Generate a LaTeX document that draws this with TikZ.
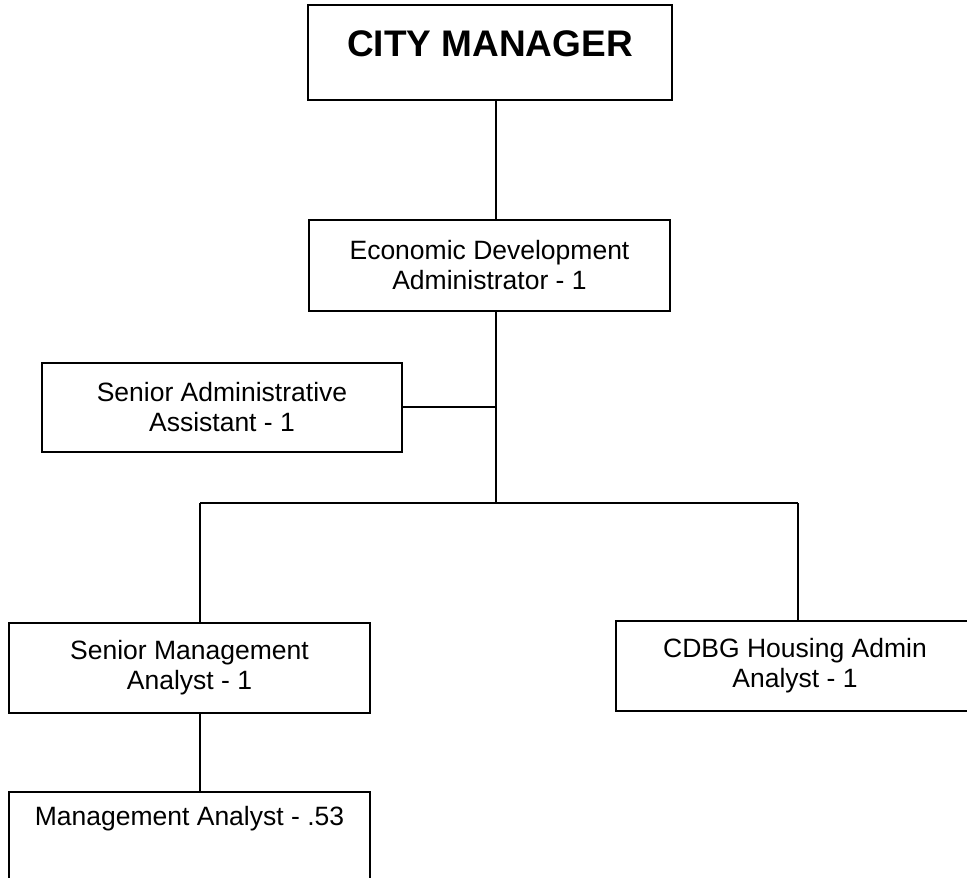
\documentclass[tikz,border=0pt]{standalone}
\usepackage{fontspec}
\setmainfont{Liberation Sans}
\usetikzlibrary{positioning}
\tikzset{unit/.style={draw, line width=1.6pt, inner sep=0pt, align=center,
                      font=\fontsize{26.5}{30}\selectfont},
         link/.style={line width=1.6pt}}

\begin{document}
\begin{tikzpicture}[x=1pt, y=-1pt]

        \clip (0,0) rectangle (967,878);

        % Nodes
        \node[unit, minimum width=364pt, minimum height=95pt, text depth=17pt,
              font=\bfseries\fontsize{37}{42}\selectfont] (cm) at (490,52.5) {CITY MANAGER};
        \node[unit, minimum width=361pt, minimum height=91pt] (ed) at (489.5,265.5) {Economic Development\\Administrator - 1};
        \node[unit, minimum width=360pt, minimum height=89pt] (saa) at (222,407.5) {Senior Administrative\\Assistant - 1};
        \node[unit, minimum width=361pt, minimum height=90pt] (sma) at (189.5,668) {Senior Management\\Analyst - 1};
        \node[unit, minimum width=358pt, minimum height=90pt] (cdbg) at (795,666) {CDBG Housing Admin\\Analyst - 1};
        \node[unit, minimum width=361pt, text height=34pt, text depth=60pt, anchor=north] (ma) at (189.5,791) {Management Analyst - .53};

        \coordinate (jsa) at (496,407);
        \coordinate (jm) at (496,503);
        \coordinate (jl) at (200,503);
        \coordinate (jr) at (798,503);

        % Edges
        \draw[link] (cm.south -| jsa) -- (ed.north -| jsa);
        \draw[link] (ed.south -| jsa) -- (jm);
        \draw[link] (saa.east |- jsa) -- (jsa);
        \draw[link] (jl) -- (jr);
        \draw[link] (jl) -- (jl |- sma.north);
        \draw[link] (jr) -- (jr |- cdbg.north);
        \draw[link] (sma.south -| jl) -- (ma.north -| jl);

    \end{tikzpicture}
\end{document}
